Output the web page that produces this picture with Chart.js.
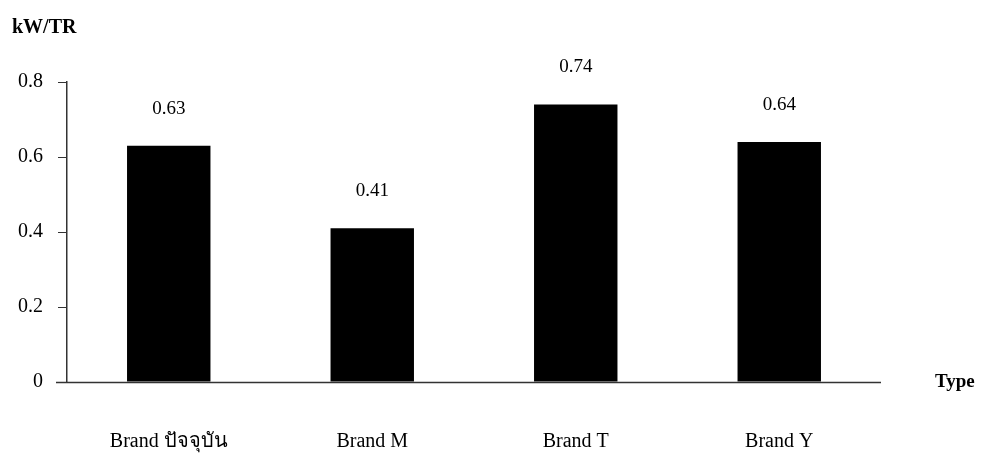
<!DOCTYPE html>
<html>
<head>
  <title>kW/TR by Brand</title>
  <script src="https://cdn.jsdelivr.net/npm/chart.js"></script>
  <style>
    body {
      margin: 0;
      background: #fff;
    }
    #wrap {
      width: 982px;
      height: 456px;
    }
  </style>
</head>
<body>
  <div id="wrap">
    <canvas id="chart" width="982" height="456"></canvas>
  </div>

  <script>
    // values
    const brands = ["Brand ปัจจุบัน", "Brand M", "Brand T", "Brand Y"];
    const kwPerTr = [0.63, 0.41, 0.74, 0.64];
    const yTicks = [0, 0.2, 0.4, 0.6, 0.8];

    const serif = "'Liberation Serif', 'Times New Roman', serif";

    // axis titles, value labels and the x axis line overhang
    const extras = {
      id: "extras",
      afterDraw(chart) {
        const ctx = chart.ctx;
        const area = chart.chartArea;
        ctx.save();

        // x axis line, a bit past the y axis on the left
        ctx.strokeStyle = "#333";
        ctx.lineWidth = 1.5;
        ctx.beginPath();
        ctx.moveTo(area.left - 11, area.bottom + 0.5);
        ctx.lineTo(area.right, area.bottom + 0.5);
        ctx.stroke();

        ctx.fillStyle = "#000";
        ctx.font = "bold 20px " + serif;
        ctx.textAlign = "left";
        ctx.textBaseline = "middle";
        ctx.fillText("kW/TR", 12, 28);
        ctx.font = "bold 19px " + serif;
        ctx.fillText("Type", area.right + 54, area.bottom);

        ctx.font = "19px " + serif;
        ctx.textAlign = "center";
        const meta = chart.getDatasetMeta(0);
        meta.data.forEach((bar, i) => {
          ctx.fillText(kwPerTr[i].toFixed(2), bar.x, bar.y - 37);
        });
        ctx.restore();
      }
    };

    new Chart(document.getElementById("chart"), {
      type: "bar",
      data: {
        labels: brands,
        datasets: [{
          data: kwPerTr,
          backgroundColor: "#000",
          borderWidth: 0,
          barPercentage: 0.41,
          categoryPercentage: 1
        }]
      },
      options: {
        responsive: false,
        animation: false,
        layout: {
          padding: { top: 82, right: 101, bottom: 0, left: 0 }
        },
        plugins: {
          legend: { display: false },
          tooltip: { enabled: false }
        },
        scales: {
          x: {
            grid: { display: false },
            border: { display: false },
            ticks: {
              color: "#000",
              font: { family: serif, size: 20 },
              padding: 40,
              maxRotation: 0
            },
            afterFit(scale) { scale.height = 74; }
          },
          y: {
            min: 0,
            max: 0.8,
            afterBuildTicks(scale) {
              scale.ticks = yTicks.map(v => ({ value: v }));
            },
            grid: {
              drawOnChartArea: false,
              drawTicks: true,
              tickLength: 9,
              color: "#333"
            },
            border: { display: true, color: "#333", width: 1.5 },
            ticks: {
              color: "#000",
              font: { family: serif, size: 20 },
              padding: 15,
              callback: v => String(v)
            },
            afterFit(scale) { scale.width = 67; }
          }
        }
      },
      plugins: [extras]
    });
  </script>
</body>
</html>
